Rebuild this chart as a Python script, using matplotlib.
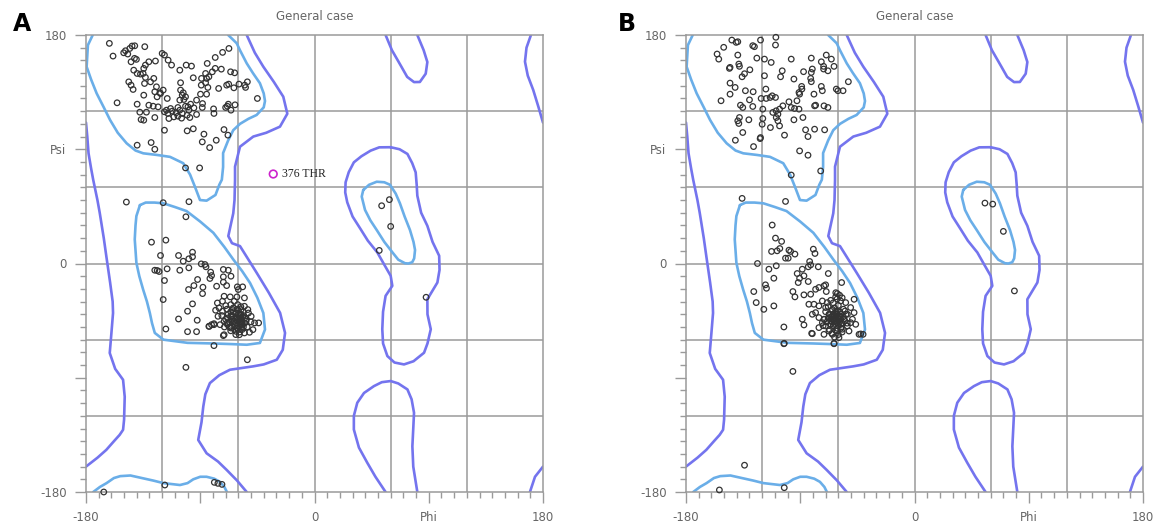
import matplotlib
matplotlib.use("Agg")
import matplotlib.pyplot as plt
from matplotlib.ticker import MultipleLocator

# ---- contour lines (phi, psi), same for both panels ----
fav_beta_top = [(-174.7, 180), (-178.5, 172), (-179.5, 155), (-176, 145), (-171.6, 134), (-166, 123),
                (-161, 113), (-155, 103), (-148, 94.7), (-141, 89), (-134.9, 86.8), (-124, 85.5),
                (-113.8, 84), (-103.4, 79), (-98, 70), (-94, 60), (-90.2, 50), (-85, 49.5), (-78, 54),
                (-75, 62), (-73, 66), (-72, 76), (-72, 87), (-68, 97), (-64, 105), (-58.7, 110),
                (-52, 114), (-45.6, 117), (-40, 123), (-39, 128), (-40, 134), (-43, 142), (-48.5, 150),
                (-53.4, 157.7), (-58.7, 168), (-61.3, 173.5), (-68, 180)]
fav_beta_bot = [(-174.3, -180), (-169, -176), (-163.8, -173), (-158, -169), (-153, -167.5), (-145, -167),
                (-136, -169), (-127, -171), (-119, -173), (-106, -174.5), (-100, -173), (-95.5, -170),
                (-90, -168), (-85, -168), (-79, -169.5), (-74.5, -172), (-71, -176), (-69, -180)]
fav_alpha = [(-137.5, 46), (-133, 48), (-126, 48), (-119, 47.4), (-110, 44.5), (-100.8, 41.3), (-90, 33),
             (-79.7, 24.2), (-71, 13), (-64, 3.2), (-57, -6), (-50.8, -15.3), (-45, -27), (-40.3, -39),
             (-39, -52), (-43, -62.6), (-53.4, -64), (-65, -63.5), (-79.7, -63), (-100, -62.5),
             (-119, -60), (-125.8, -54.7), (-128, -47), (-129.7, -39), (-132, -30), (-135, -20.5),
             (-138, -10), (-140.3, 0.5), (-141.6, 19), (-141, 30), (-140.3, 37.4), (-137.5, 46)]
fav_left = [(38.4, 57.9), (43, 62), (49, 64.4), (55, 64), (59.5, 62), (64, 55), (67.3, 47.4), (71, 37),
            (75.2, 26.4), (78, 17), (79.2, 10.6), (78.5, 4), (77, 1), (74, 0), (71.3, 0.2), (66, 3),
            (62, 8), (55, 17), (49, 26.4), (44, 34), (39.8, 42.2), (37.2, 52.7), (38.4, 57.9)]

allow_left = [(-180, 111), (-179, 100), (-178, 86.8), (-176, 75), (-174.3, 65.8), (-171, 50),
              (-169.2, 40), (-166, 20), (-164, 5.8), (-161, -15), (-159, -30), (-158.7, -39),
              (-160, -55), (-161.3, -70.5), (-157, -83), (-150.8, -91.6), (-149.5, -105), (-150, -123),
              (-150.8, -131), (-153.5, -135), (-158, -140), (-164, -146.8), (-171, -153), (-180, -160)]
allow_mid = [(-53.4, 180), (-47, 166), (-40.3, 155), (-32, 143), (-24.6, 131.4), (-21.4, 118),
             (-27.2, 107.8), (-38, 103), (-48.2, 100), (-58.7, 92), (-62.6, 76.3), (-62.6, 65.8),
             (-63, 50), (-64, 39.5), (-67.9, 21.6), (-65, 16), (-58.7, 13.7), (-52, 3), (-45.5, -7.4),
             (-36, -23), (-27.1, -38.9), (-23.2, -54.7), (-25, -68), (-29.7, -75.8), (-40, -79.5),
             (-48.2, -81), (-66.6, -83.7), (-75, -88), (-82.4, -94.2), (-86, -103), (-87.6, -112.6),
             (-89, -125), (-91.6, -139), (-85, -149.5), (-76, -156), (-69.2, -162.6), (-61, -171),
             (-53.4, -180)]
allow_lh = [(60, 91.6), (67, 90), (73.2, 86.3), (77, 79), (79.7, 71.8), (80.5, 62), (81, 53.4), (84, 40),
            (88.9, 29.7), (93, 17), (98.2, 6.1), (98.5, -5), (96.8, -15), (92, -23), (88.9, -28.2),
            (89, -40), (91.6, -51.8), (89, -63), (86.3, -70.3), (78, -77), (70.5, -79.5), (63, -78),
            (57.4, -72.9), (54, -63), (53.4, -51.8), (54, -38), (56, -25.5), (61.3, -17.6), (60, -9.7),
            (55, -1), (49.5, 8.7), (42, 18), (36.3, 27.1), (30, 37), (25.8, 48.2), (24.2, 56), (24.5, 64),
            (27, 72), (31, 79.7), (37, 84.5), (44.2, 88.9), (51, 91.5), (60, 91.6)]
allow_gly_bot = [(56, -180), (48, -168), (41.6, -157), (35, -145), (31, -130.8), (31, -120), (33.7, -109.7),
                 (39, -102), (46.8, -96.6), (53, -93.5), (60, -92.6), (66, -94.5), (73.2, -99.2), (76.5, -107),
                 (78.4, -117.6), (77.8, -130), (77.1, -144), (77.8, -160), (81, -180)]
allow_gly_top = [(56, 180), (61, 168), (67.9, 156), (73, 147), (78.4, 142.9), (83, 143), (87.6, 149.5),
                 (88.9, 158.7), (86, 168), (81, 180)]
allow_edge_top = [(170.5, 180), (167, 170), (165.8, 159), (168, 148), (172.3, 136.7), (176.5, 123), (180, 111)]
allow_edge_bot = [(169.7, -180), (173.7, -168), (180, -160)]

# ---- panel A residues (phi, psi) ----
a_beta = [(-161.6, 173.4), (-158.7, 163.4), (-148.9, 167.6), (-147.1, 165), (-145.5, 169.4), (-143.7, 171.3),
          (-141.6, 171.5), (-141.8, 161.6), (-144.5, 158.9), (-140.3, 160.8), (-133.7, 170.8), (-120, 165.5),
          (-118.2, 164.2), (-115.3, 160.2), (-112.6, 156.3), (-125.3, 159.5), (-130.5, 158.9), (-133.2, 156.3),
          (-134.5, 153.7), (-139.7, 149.7), (-137.1, 149.2), (-135, 149.7), (-133.2, 146.6), (-129.2, 143.1),
          (-133.9, 141.8), (-144.5, 140.5), (-142.9, 137.1), (-134.5, 132.6), (-124.5, 139.2), (-119.2, 136.6),
          (-125.8, 135.3), (-121.8, 134.5), (-124, 131.3), (-116, 130), (-155.5, 126.6), (-139.7, 125.5),
          (-130.5, 124.7), (-127.1, 123.9), (-123.2, 123.4), (-132.4, 119.2), (-137.6, 119.2), (-134.5, 112.9),
          (-136.6, 113.4), (-125.8, 115), (-118.2, 119.5), (-116.6, 120.8), (-114.7, 114.2), (-112.1, 120),
          (-109, 118.7), (-106.1, 120.8), (-107.6, 116.1), (-104.7, 114.5), (-101.6, 123.9), (-99, 120.8),
          (-100.3, 116.8), (-98.2, 115), (-92.9, 117.4), (-97.6, 125.5), (-102.9, 129.2), (-106.1, 128.7),
          (-104.2, 132.6), (-105.5, 136.6), (-103.4, 134.5), (-101.6, 131.3), (-105.5, 142.4), (-106.1, 152.3),
          (-101.1, 156.3), (-96.9, 155.5), (-95.5, 146.3), (-89, 145.8), (-85, 145.8), (-85.8, 142.4),
          (-89.2, 140.5), (-84, 138.7), (-89.8, 133.4), (-92.9, 128.7), (-88.2, 126), (-85, 133.4),
          (-88.4, 122.9), (-79.5, 121.8), (-79.2, 118.2), (-70, 122.9), (-67.9, 125.5), (-65.8, 120.8),
          (-62.6, 125), (-68.7, 123.9), (-75.5, 137.9), (-69.2, 140.5), (-67.6, 141.3), (-63.5, 138.4),
          (-59.5, 141.3), (-55, 140.5), (-52.9, 143.1), (-54.3, 138.7), (-73.4, 153.1), (-78.2, 153.7),
          (-80.5, 151), (-84.5, 157.6), (-78.2, 162.3), (-72.4, 166.3), (-67.4, 169.4), (-66.1, 151),
          (-62.9, 150.2), (-45, 130), (-118.2, 105), (-100.3, 104.5), (-95.5, 106.1), (-87.1, 101.9),
          (-88.4, 95.8), (-82.6, 91.3), (-77.4, 97.1), (-71.3, 105.5), (-68.2, 101.1), (-139.7, 93.2),
          (-128.7, 95.3), (-125.8, 90), (-101.6, 75.3), (-90.5, 75.3), (-83.2, 147.1), (-85.8, 149.7),
          (-99.7, 123.4), (-107.6, 122.9), (-113.4, 122.1), (-115.5, 118.2), (-110.8, 115.5), (-104.2, 118.2),
          (-121.3, 133.9), (-150.3, 166), (-142.4, 152.3), (-146.3, 143.1), (-126.6, 145.8), (-95, 122.6)]
a_alpha = [(-148.2, 48.4), (-119.2, 47.9), (-98.9, 48.7), (-101.3, 36.8), (-128.4, 16.8), (-117.1, 18.4),
           (-121.3, 6.3), (-107.1, 6.3), (-96.1, 8.9), (-103.4, 1.8), (-99, 3.7), (-96.1, 5.3), (-125.8, -5.3),
           (-123.9, -5.5), (-122.4, -6.3), (-116.1, -4.2), (-106.1, -5.3), (-99, -3.4), (-89.2, -0.3),
           (-86.3, -0.8), (-85.5, -2.6), (-81.8, -6.8), (-81.1, -9.5), (-82.4, -11.8), (-71.8, -4.7),
           (-67.9, -5.3), (-65.8, -10), (-71.8, -10.5), (-71.8, -14.7), (-77.1, -17.9), (-69.2, -17.4),
           (-92.1, -12.6), (-95, -17.4), (-99.2, -20.5), (-87.9, -18.7), (-88.2, -23.7), (-118.2, -13.4),
           (-119.2, -28.4), (-96.1, -31.8), (-100, -37.6), (-107.1, -43.7), (-92.4, -44.7), (-117.1, -51.6),
           (-100, -53.7), (-92.9, -53.7), (-82.9, -49.5), (-79.2, -47.4), (-71.8, -56.8), (-79.2, -64.7),
           (-101.3, -81.8), (-52.9, -75.8), (-60, -20.5), (-56.6, -18.4), (-60.8, -18.4)]
a_helix = [(-71.2, -25.8), (-66.4, -26.3), (-61.1, -26.3), (-55.2, -27.1), (-76.5, -31.1), (-72.5, -29.7),
           (-69.9, -33.2), (-65.9, -32.4), (-77.9, -36.8), (-76, -41.6), (-79.2, -48.2), (-74.4, -48.2),
           (-71.2, -45.5), (-68.5, -48.2), (-65.9, -50.8), (-61.9, -53.4), (-59.2, -56.1), (-55.2, -54.7),
           (-51.2, -54.2), (-48.5, -52.1), (-47.2, -46.8), (-44, -46.8), (-49.9, -41.6), (-52.5, -36.3),
           (-55.2, -33.7), (-60.5, -32.4), (-64.5, -36.3), (-65.9, -41.6), (-61.9, -38.9), (-57.9, -40.3),
           (-53.9, -45.5), (-57.9, -48.2), (-63.2, -45.5), (-68.5, -42.9), (-72.5, -37.6), (-75.2, -35),
           (-57.9, -36.3), (-63.2, -29.7), (-83.2, -49.5), (-81.1, -48.2), (-71.2, -56.1),
           (-60, -44), (-59, -46), (-61, -42), (-58, -43), (-62, -47), (-57, -45), (-60, -49), (-63, -43),
           (-56, -41), (-59, -40), (-61, -51), (-58, -50), (-64, -46), (-55, -47), (-57, -52), (-62, -39),
           (-60, -37), (-65, -44), (-66, -38), (-54, -44), (-59, -54), (-63, -52), (-67, -46), (-68, -40),
           (-70, -44), (-53, -50), (-56, -38), (-64, -35), (-58, -34), (-69, -36), (-73, -41), (-71, -50),
           (-52, -39), (-50, -46), (-66, -53), (-62, -56), (-61, -45), (-59, -42), (-57, -48), (-63, -49),
           (-65, -41), (-60, -52), (-55, -43), (-67, -50), (-62, -44), (-58, -47), (-56, -50), (-64, -38),
           (-61, -36), (-69, -47)]
a_other = [(-166, -180), (-117.9, -174.5), (-78.9, -172.4), (-76.1, -173.2), (-72.9, -174),
           (59, 50.3), (52.9, 45.5), (60, 29.2), (51, 10.3), (87.9, -26.6)]
outlier = (-32.5, 70.5)
outlier_label = "376 THR"

# ---- panel B residues (phi, psi) ----
b_beta = [(-143.9, 176), (-140.5, 174.2), (-139.2, 174.7), (-150.3, 170.3), (-155.5, 165), (-154.2, 161),
          (-139.2, 164.2), (-127.4, 171.6), (-126.1, 170.8), (-121.3, 176), (-109.2, 178.2), (-109.5, 172.1),
          (-124.2, 161.8), (-118.2, 161), (-112.9, 158.4), (-97.1, 161), (-81.3, 161.8), (-69.5, 164.2),
          (-65.5, 161), (-73.4, 158.9), (-71.6, 155.3), (-63.4, 155.3), (-68.2, 151.8), (-71.6, 153.2),
          (-145.8, 153.7), (-145.3, 154.5), (-138.4, 157.1), (-137.9, 155.3), (-129.7, 152.6), (-133.9, 149.5),
          (-135.8, 147.1), (-118.2, 147.9), (-104.2, 151.8), (-105.5, 147.1), (-95, 145.3), (-87.4, 151.1),
          (-80.5, 153.2), (-81.3, 150.5), (-81.8, 145.8), (-81.3, 143.2), (-88.9, 139.5), (-88.7, 137.4),
          (-91, 134.7), (-90.5, 133.4), (-73.4, 139.5), (-72.6, 136.1), (-79.2, 133.4), (-61.6, 137.4),
          (-60.3, 136.1), (-56.3, 136.1), (-52.1, 143.2), (-145.3, 142.1), (-141.3, 138.7), (-145.3, 133.4),
          (-133.2, 136.1), (-127.1, 135.3), (-117.1, 137.4), (-120.8, 130), (-116.8, 130), (-113.7, 130.8),
          (-112.1, 132.1), (-109.5, 130.8), (-130, 128.9), (-152.4, 128.2), (-137.1, 124.7), (-135.3, 122.9),
          (-127.4, 123.7), (-119.5, 121.6), (-111.6, 119), (-109, 120.3), (-106.3, 121.6), (-103.7, 124.2),
          (-98.9, 127.4), (-97.1, 122.9), (-94.5, 122.1), (-92.6, 128.2), (-91, 121.6), (-78.7, 124.2),
          (-77.9, 124.7), (-71.3, 124.2), (-68.2, 122.9), (-119.5, 114.2), (-107.6, 117.6), (-108.9, 115),
          (-107.6, 112.4), (-106.3, 108.4), (-113.5, 107.1), (-120, 109.7), (-130.5, 113.2), (-137.9, 115),
          (-139.2, 112.4), (-138.4, 110.3), (-135.3, 103.2), (-141.1, 97.1), (-121.6, 98.4), (-121.3, 99.2),
          (-126.8, 92.1), (-102.4, 101.1), (-95, 113.2), (-87.9, 115), (-85.8, 105.3), (-78.7, 105.8),
          (-83.9, 100), (-70.8, 105.3), (-90.5, 88.7), (-83.9, 85.3), (-97.1, 69.7), (-73.9, 72.9)]
b_alpha = [(-135.8, 51.3), (-101.6, 48.9), (-112.1, 30.3), (-109.5, 20), (-104.7, 17.4), (-112.6, 9.5),
           (-108.2, 10), (-106.1, 11.8), (-98.9, 10.5), (-97.6, 9.5), (-94.2, 7.4), (-101.6, 4.2), (-99.5, 4.2),
           (-108.9, -1.8), (-114.7, -4.5), (-123.7, 0), (-110.8, -11.6), (-117.4, -16.8), (-116.6, -19.5),
           (-126.6, -22.1), (-124.7, -30.8), (-118.7, -36.1), (-110.8, -33.4), (-95.8, -22.1), (-94.2, -26.3),
           (-92.4, -7.9), (-90.5, -11.6), (-91.6, -15), (-87.1, -9.7), (-88.4, -4.5), (-83.7, -2.6),
           (-81.8, -1.1), (-82.6, 1.6), (-75.8, -2.6), (-79.7, 11.3), (-78.4, 7.9), (-67.9, -7.9),
           (-83.7, -14.2), (-87.1, -24.7), (-81.8, -24.2), (-77.9, -20.3), (-75.3, -18.9), (-71.3, -17.6),
           (-70, -16.8), (-57.4, -15), (-47.6, -28.2), (-102.9, -50), (-88.4, -43.9), (-87.1, -48.4),
           (-80.5, -55.3), (-102.9, -63.2), (-63.4, -63.2), (-43.7, -55.8), (-40.5, -55.8),
           (-102.6, -62.9), (-95.8, -85), (-63.4, -62.9), (-81, -55), (-42.4, -55.5)]
b_helix = [(-60.8, -23.7), (-62.1, -26.3), (-69.5, -22.1), (-72.6, -29.5), (-75.3, -33.4), (-70, -34.7),
           (-79.2, -32.1), (-77.9, -38.7), (-75.3, -42.6), (-72.6, -46.6), (-70, -49.2), (-67.4, -53.2),
           (-64.7, -55.8), (-60.8, -53.2), (-56.8, -51.8), (-52.9, -49.2), (-50.3, -46.6), (-48.9, -43.9),
           (-47.6, -38.7), (-50.3, -34.7), (-54.2, -30.8), (-58.2, -29.5), (-54.7, -37.4), (-58.9, -41.3),
           (-63.4, -43.9), (-67.4, -40), (-64.7, -36.1), (-60.8, -37.4), (-61.6, -45.3), (-58.2, -47.9),
           (-55.5, -43.9), (-66.1, -47.9), (-71.3, -43.9), (-68.7, -30.8), (-52.9, -40), (-46.3, -47.9),
           (-59.5, -58.4), (-51.6, -53.2), (-71.3, -55.8), (-75.3, -50.5), (-80.5, -40), (-83.2, -32.1),
           (-63, -41), (-62, -43), (-64, -44), (-61, -40), (-60, -45), (-65, -42), (-63, -46), (-59, -42),
           (-66, -45), (-62, -38), (-60, -48), (-64, -49), (-58, -44), (-67, -40), (-61, -51), (-57, -47),
           (-65, -37), (-68, -43), (-59, -38), (-63, -35), (-56, -42), (-66, -48), (-62, -53), (-69, -46),
           (-58, -51), (-55, -45), (-60, -33), (-64, -31), (-61, -28), (-59, -25), (-62, -23), (-57, -27),
           (-70, -38), (-71, -44), (-67, -52), (-54, -40), (-53, -47), (-56, -36), (-65, -55), (-60, -56),
           (-63, -58), (-57, -54), (-72, -49), (-68, -34), (-66, -29), (-62, -45), (-61, -47), (-64, -40),
           (-59, -46), (-62, -40), (-63, -48), (-60, -43), (-65, -46), (-58, -40), (-66, -42)]
b_other = [(-133.9, -158.9), (-153.7, -178.4), (-102.6, -176.6),
           (55.5, 47.6), (61.6, 46.8), (70, 25.3), (78.7, -21.6)]

grid_vals = [-120, -60, 0, 60, 120]
major_ticks = [-180, -90, 0, 90, 180]
x_labels = ["-180", "", "0", "Phi", "180"]
y_labels = ["-180", "", "0", "Psi", "180"]

favored_color = "#6aaee8"
allowed_color = "#7474ee"
grey = "#9a9a9a"

fig = plt.figure(figsize=(11.59, 5.24), dpi=100)
ax_a = fig.add_axes([86 / 1159, 32 / 524, 457 / 1159, 457 / 524])
ax_b = fig.add_axes([686 / 1159, 32 / 524, 457 / 1159, 457 / 524])


def setup(ax):
    ax.set_xlim(-180, 180)
    ax.set_ylim(-180, 180)
    for v in grid_vals:
        ax.axvline(v, color=grey, lw=1.1, zorder=0)
        ax.axhline(v, color=grey, lw=1.1, zorder=0)
    for s in ax.spines.values():
        s.set_color(grey)
        s.set_linewidth(1.1)
    ax.set_xticks(major_ticks)
    ax.set_xticklabels(x_labels)
    ax.set_yticks(major_ticks)
    ax.set_yticklabels(y_labels)
    ax.xaxis.set_minor_locator(MultipleLocator(10))
    ax.yaxis.set_minor_locator(MultipleLocator(10))
    ax.tick_params(which="major", direction="out", length=8, width=1, color=grey,
                   labelcolor="#666666", labelsize=8.5, pad=6)
    ax.tick_params(which="minor", direction="out", length=4, width=1, color=grey)

    for line in [fav_beta_top, fav_beta_bot, fav_alpha, fav_left]:
        x, y = zip(*line)
        ax.plot(x, y, color=favored_color, lw=1.9, zorder=2,
                solid_capstyle="round", solid_joinstyle="round")
    for line in [allow_left, allow_mid, allow_lh, allow_gly_bot, allow_gly_top,
                 allow_edge_top, allow_edge_bot]:
        x, y = zip(*line)
        ax.plot(x, y, color=allowed_color, lw=1.9, zorder=2,
                solid_capstyle="round", solid_joinstyle="round")


def draw_points(ax, groups):
    for pts in groups:
        x, y = zip(*pts)
        ax.scatter(x, y, s=16, facecolors="none", edgecolors="#333333",
                   linewidths=0.9, zorder=3, clip_on=False)


setup(ax_a)
draw_points(ax_a, [a_beta, a_alpha, a_helix, a_other])
ax_a.scatter([outlier[0]], [outlier[1]], s=30, facecolors="none", edgecolors="#cc22cc",
             linewidths=1.2, zorder=4)
ax_a.text(outlier[0] + 7, outlier[1], outlier_label, family=["Liberation Serif", "DejaVu Serif"],
          fontsize=8.5, color="#222222", va="center", ha="left")

setup(ax_b)
draw_points(ax_b, [b_beta, b_alpha, b_helix, b_other])

for ax, letter, lx in [(ax_a, "A", 22), (ax_b, "B", 627)]:
    fig.text(lx / 1159, 1 - 24 / 524, letter, fontsize=17, fontweight="bold",
             ha="center", va="center", color="black")
    pos = ax.get_position()
    fig.text(pos.x0 + pos.width / 2, 1 - 17 / 524, "General case", fontsize=8.5,
             color="#666666", ha="center", va="center")

fig.savefig("out.png", dpi=100)
